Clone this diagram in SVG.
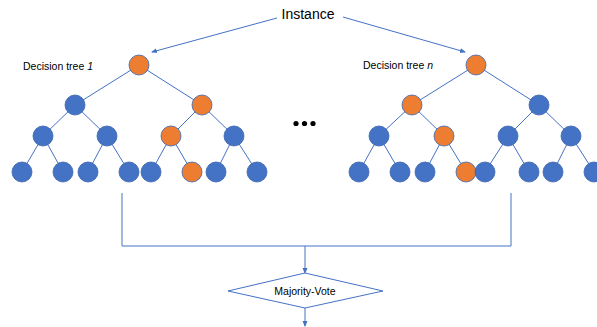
<svg xmlns="http://www.w3.org/2000/svg" width="597" height="327" viewBox="0 0 597 327">
<defs>
<style>
.e{stroke:#4472C4;stroke-width:1;fill:none}
.c{stroke:#3A64AE;stroke-width:0.8;fill:#4472C4}
.o{stroke:#3A64AE;stroke-width:0.8;fill:#ED7D31}
.t{font-family:"Liberation Sans",Arial,sans-serif;fill:#000}
.a{stroke:#4472C4;stroke-width:1;fill:none;marker-end:url(#ah)}
</style>
<marker id="ah" markerWidth="6" markerHeight="6" refX="5" refY="3" orient="auto" markerUnits="userSpaceOnUse">
<path d="M0,0.5 L6,3 L0,5.5 Z" fill="#4472C4"/>
</marker>
</defs>
<rect width="597" height="327" fill="#fff"/>
<g id="instance"><text class="t" x="308" y="19" font-size="14" text-anchor="middle">Instance</text></g>
<g id="label1"><text class="t" x="23" y="70" font-size="10.5">Decision tree <tspan font-style="italic">1</tspan></text></g>
<g id="labeln"><text class="t" x="363" y="69" font-size="10.5">Decision tree <tspan font-style="italic">n</tspan></text></g>
<g id="dots"><circle cx="296" cy="123.5" r="2.6" fill="#000"/><circle cx="304.5" cy="123.5" r="2.6" fill="#000"/><circle cx="313" cy="123.5" r="2.6" fill="#000"/></g>
<g id="connectors">
<line class="a" x1="277" y1="18" x2="152" y2="52"/>
<line class="a" x1="343" y1="17" x2="465" y2="52"/>
<!-- tree 1 edges -->
<path class="e" d="M139,65 L75,105 M139,65 L202,105 M75,105 L43,136 M75,105 L107,136 M202,105 L171,136 M202,105 L234,136 M43,136 L22,172 M43,136 L63,172 M107,136 L88,172 M107,136 L129,172 M171,136 L151,172 M171,136 L192,172 M234,136 L216,172 M234,136 L257,172"/>
<!-- tree n edges -->
<path class="e" d="M476,65 L412,105 M476,65 L539,105 M412,105 L379,136 M412,105 L444,136 M539,105 L508,136 M539,105 L571,136 M379,136 L359,172 M379,136 L400,172 M444,136 L425,172 M444,136 L466,172 M508,136 L485,172 M508,136 L529,172 M571,136 L553,172 M571,136 L594,172"/>
<path class="e" d="M122,193 L122,246 L511,246 L511,193"/>
<line class="a" x1="305" y1="246" x2="305" y2="273"/>
<line class="a" x1="305" y1="308" x2="305" y2="326"/>
</g>
<g id="tree1">
<circle class="o" cx="139" cy="65" r="10"/>
<circle class="c" cx="75" cy="105" r="10"/>
<circle class="o" cx="202" cy="105" r="10"/>
<circle class="c" cx="43" cy="136" r="10"/>
<circle class="c" cx="107" cy="136" r="10"/>
<circle class="o" cx="171" cy="136" r="10"/>
<circle class="c" cx="234" cy="136" r="10"/>
<circle class="c" cx="22" cy="172" r="10"/>
<circle class="c" cx="63" cy="172" r="10"/>
<circle class="c" cx="88" cy="172" r="10"/>
<circle class="c" cx="129" cy="172" r="10"/>
<circle class="c" cx="151" cy="172" r="10"/>
<circle class="o" cx="192" cy="172" r="10"/>
<circle class="c" cx="216" cy="172" r="10"/>
<circle class="c" cx="257" cy="172" r="10"/>
</g>
<g id="treen">
<circle class="o" cx="476" cy="65" r="10"/>
<circle class="o" cx="412" cy="105" r="10"/>
<circle class="c" cx="539" cy="105" r="10"/>
<circle class="c" cx="379" cy="136" r="10"/>
<circle class="o" cx="444" cy="136" r="10"/>
<circle class="c" cx="508" cy="136" r="10"/>
<circle class="c" cx="571" cy="136" r="10"/>
<circle class="c" cx="359" cy="172" r="10"/>
<circle class="c" cx="400" cy="172" r="10"/>
<circle class="c" cx="425" cy="172" r="10"/>
<circle class="o" cx="466" cy="172" r="10"/>
<circle class="c" cx="485" cy="172" r="10"/>
<circle class="c" cx="529" cy="172" r="10"/>
<circle class="c" cx="553" cy="172" r="10"/>
<circle class="c" cx="594" cy="172" r="10"/>
</g>
<g id="vote">
<polygon points="228,291 305,273 383,291 305,308" fill="#fff" stroke="#4472C4" stroke-width="1"/>
<text class="t" x="305" y="295" font-size="10.5" text-anchor="middle">Majority-Vote</text>
</g>
</svg>
